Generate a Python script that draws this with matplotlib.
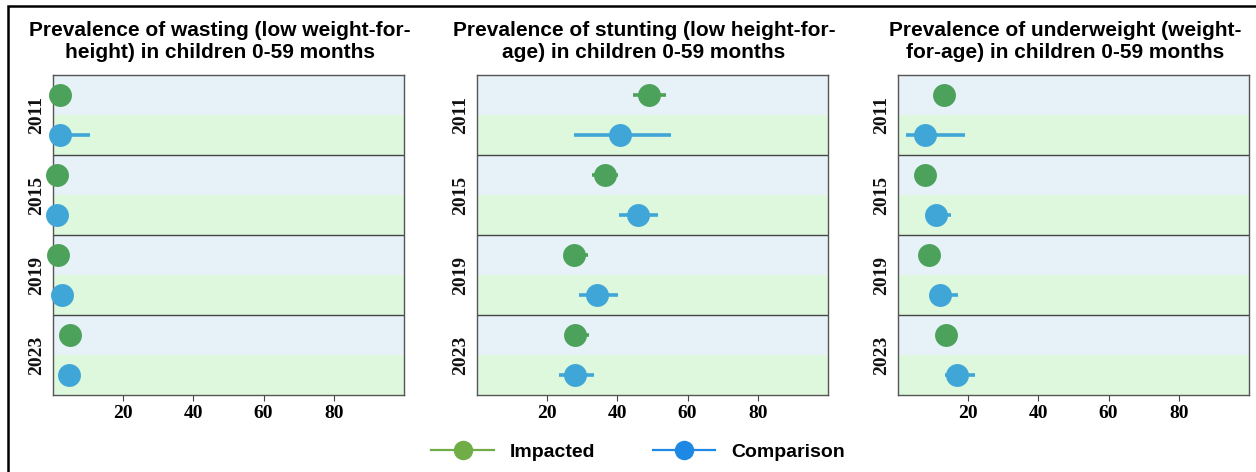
import matplotlib.pyplot as plt
from matplotlib.lines import Line2D
from matplotlib.patches import Rectangle

years = ["2011", "2015", "2019", "2023"]

titles = [
    "Prevalence of wasting (low weight-for-\nheight) in children 0-59 months",
    "Prevalence of stunting (low height-for-\nage) in children 0-59 months",
    "Prevalence of underweight (weight-\nfor-age) in children 0-59 months",
]

# wasting
wast_imp = [2.0, 1.0, 1.5, 4.8]
wast_imp_lo = [1.0, 0.5, 0.8, 3.6]
wast_imp_hi = [3.0, 1.5, 2.2, 6.0]
wast_cmp = [2.1, 1.0, 2.6, 4.5]
wast_cmp_lo = [0.5, 0.5, 1.5, 3.5]
wast_cmp_hi = [10.6, 1.5, 4.0, 5.5]

# stunting
stunt_imp = [49.0, 36.5, 27.6, 27.8]
stunt_imp_lo = [44.4, 32.8, 25.5, 25.5]
stunt_imp_hi = [53.8, 40.3, 31.5, 31.9]
stunt_cmp = [40.8, 46.0, 34.3, 28.0]
stunt_cmp_lo = [27.7, 40.5, 29.2, 23.5]
stunt_cmp_hi = [55.4, 51.5, 40.1, 33.4]

# underweight
under_imp = [13.2, 7.7, 8.8, 13.8]
under_imp_lo = [11.5, 6.5, 7.5, 12.0]
under_imp_hi = [15.0, 9.0, 10.0, 15.5]
under_cmp = [7.8, 10.8, 12.1, 16.9]
under_cmp_lo = [2.3, 9.0, 10.5, 13.4]
under_cmp_hi = [19.0, 15.0, 17.0, 21.8]

xticks = [20, 40, 60, 80]

panels = [
    (wast_imp, wast_imp_lo, wast_imp_hi, wast_cmp, wast_cmp_lo, wast_cmp_hi),
    (stunt_imp, stunt_imp_lo, stunt_imp_hi, stunt_cmp, stunt_cmp_lo, stunt_cmp_hi),
    (under_imp, under_imp_lo, under_imp_hi, under_cmp, under_cmp_lo, under_cmp_hi),
]

imp_color = "#4ca25a"
cmp_color = "#40a6d8"
band_imp = "#e7f1f8"
band_cmp = "#ddf8dd"

W, H = 1256, 472
fig = plt.figure(figsize=(W / 100, H / 100), dpi=100)

lefts = [53, 477, 898]
axw = 351
top, bottom = 75, 395

for k, (imp, imp_lo, imp_hi, cmp_, cmp_lo, cmp_hi) in enumerate(panels):
    ax = fig.add_axes([lefts[k] / W, (H - bottom) / H, axw / W, (bottom - top) / H])
    ax.set_xlim(0, 100)
    ax.set_ylim(len(years) * 2, 0)

    for i, yr in enumerate(years):
        y_imp = 2 * i + 0.5
        y_cmp = 2 * i + 1.5
        ax.axhspan(2 * i, 2 * i + 1, color=band_imp, lw=0, zorder=0)
        ax.axhspan(2 * i + 1, 2 * i + 2, color=band_cmp, lw=0, zorder=0)
        if i > 0:
            ax.axhline(2 * i, color="#444444", lw=1.0, zorder=1)

        ax.hlines(y_imp, imp_lo[i], imp_hi[i], color=imp_color, lw=2.6, zorder=2)
        ax.plot(imp[i], y_imp, "o", color=imp_color, ms=16.5, mew=0, zorder=3, clip_on=False)
        ax.hlines(y_cmp, cmp_lo[i], cmp_hi[i], color=cmp_color, lw=2.6, zorder=2)
        ax.plot(cmp_[i], y_cmp, "o", color=cmp_color, ms=16.5, mew=0, zorder=3, clip_on=False)

        ax.text(-0.048, 2 * i + 1, yr, transform=ax.get_yaxis_transform(),
                rotation=90, ha="center", va="center", fontsize=14, fontweight="bold",
                family="Liberation Serif", color="#111111")

    ax.set_xticks(xticks)
    ax.set_xticklabels([str(t) for t in xticks], family="Liberation Serif",
                       fontweight="bold", fontsize=14)
    ax.set_yticks([])
    ax.tick_params(axis="x", length=4, color="#444444", pad=3)
    for s in ax.spines.values():
        s.set_color("#555555")
        s.set_linewidth(1.0)
    ax.set_title(titles[k], fontsize=15, fontweight="bold", family="Liberation Sans",
                 pad=12, linespacing=1.22, x=0.476)

handles = [
    Line2D([], [], color="#70ad47", lw=1.6, marker="o", ms=14, mew=0),
    Line2D([], [], color="#1e88e5", lw=1.6, marker="o", ms=14, mew=0),
]
fig.legend(handles, ["Impacted", "Comparison"], loc="center", bbox_to_anchor=(0.508, 1 - 452 / H),
           ncol=2, frameon=False, handlelength=3.2, columnspacing=3.0,
           prop={"family": "Liberation Sans", "weight": "bold", "size": 14})

fig.patches.append(Rectangle((8 / W, -0.1), 1.2, 1.1 - 6 / H, transform=fig.transFigure,
                             fill=False, ec="black", lw=1.8))

fig.savefig("out.png", dpi=100)
